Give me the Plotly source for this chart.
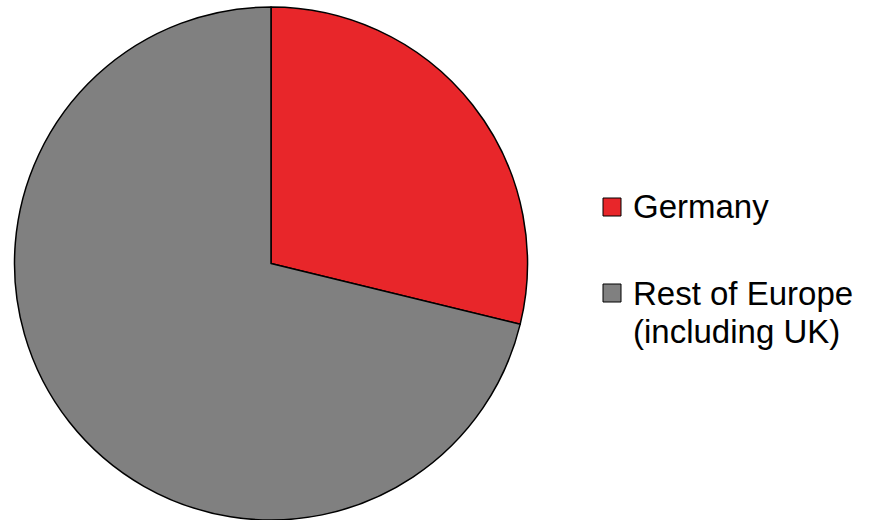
import plotly.graph_objects as go

W, H = 875, 520

# Share of the total, per region
labels = ["Germany", "Rest of Europe<br>(including UK)"]
values = [28.8, 71.2]
colors = ["#E8262A", "#808080"]


def px(x):
    return x / W


def py(y):
    return 1 - y / H


fig = go.Figure(
    go.Pie(
        labels=labels,
        values=values,
        sort=False,
        direction="clockwise",
        rotation=0,
        textinfo="none",
        hoverinfo="label+percent",
        marker=dict(colors=colors, line=dict(color="#000000", width=1.5)),
        domain=dict(x=[px(14), px(528)], y=[py(520), py(7)]),
        showlegend=False,
    )
)

# Custom legend: square swatch plus label text, one annotation per text line
legend_rows = [207, 293]
line_gap = 38
font = dict(family="Liberation Sans, Arial, sans-serif", size=33, color="#000000")
shapes = []
annotations = []
for lab, col, yc in zip(labels, colors, legend_rows):
    shapes.append(
        dict(
            type="rect", xref="paper", yref="paper",
            x0=px(603), x1=px(621), y0=py(yc + 9), y1=py(yc - 9),
            fillcolor=col, line=dict(color="#000000", width=1),
        )
    )
    for i, part in enumerate(lab.split("<br>")):
        annotations.append(
            dict(
                text=part, xref="paper", yref="paper",
                x=px(631), y=py(yc + i * line_gap), xanchor="left", yanchor="middle",
                align="left", showarrow=False, font=font,
            )
        )

fig.update_layout(
    width=W, height=H,
    margin=dict(l=0, r=0, t=0, b=0),
    paper_bgcolor="#FFFFFF",
    plot_bgcolor="#FFFFFF",
    shapes=shapes,
    annotations=annotations,
)

fig.write_html("out.html")
